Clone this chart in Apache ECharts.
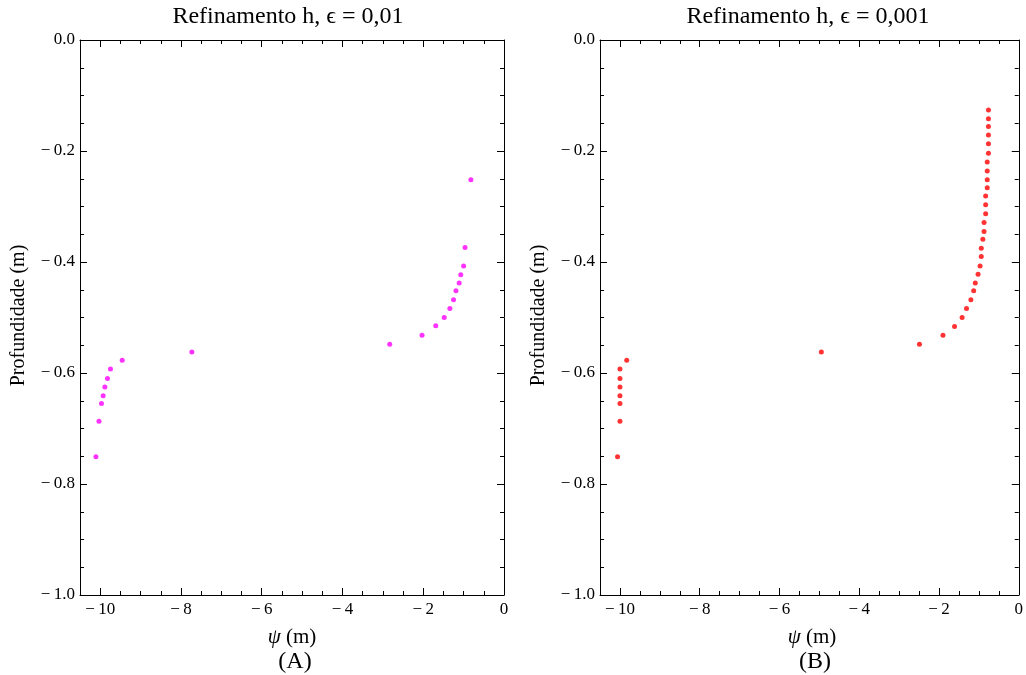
<!DOCTYPE html>
<html>
<head>
<meta charset="utf-8">
<script src="https://cdn.jsdelivr.net/npm/echarts@6/dist/echarts.min.js"></script>
<style>
  html, body { margin: 0; padding: 0; background: #fff; }
  #chart { width: 1026px; height: 675px; }
</style>
</head>
<body>
<div id="chart"></div>
<script>
// Pressure head (psi, m) against depth (m) for two tolerance settings.
const psiA = [-0.82, -0.965, -1.0, -1.07, -1.11, -1.19, -1.25, -1.34, -1.48, -1.69, -2.03, -2.83,
              -7.73, -9.455, -9.745, -9.82, -9.884, -9.926, -9.968, -10.03, -10.106];
const depthA = [-0.252, -0.374, -0.407, -0.423, -0.438, -0.452, -0.468, -0.484, -0.500, -0.515, -0.532, -0.548,
                -0.562, -0.577, -0.593, -0.610, -0.625, -0.641, -0.655, -0.687, -0.751];

const psiB = [-0.76, -0.76, -0.76, -0.76, -0.76, -0.76, -0.79, -0.79, -0.79, -0.79,
              -0.83, -0.83, -0.83, -0.87, -0.87, -0.90, -0.94, -0.94, -0.97, -1.02,
              -1.09, -1.13, -1.20, -1.31, -1.42, -1.61, -1.90, -2.49, -4.95, -9.83,
              -10.0, -10.0, -10.0, -10.0, -10.0, -10.0, -10.06];
const depthB = [-0.126, -0.142, -0.156, -0.171, -0.187, -0.204, -0.220, -0.236, -0.252, -0.266,
                -0.281, -0.297, -0.313, -0.329, -0.345, -0.359, -0.375, -0.390, -0.407, -0.422,
                -0.438, -0.452, -0.468, -0.484, -0.500, -0.516, -0.532, -0.548, -0.562, -0.577,
                -0.593, -0.610, -0.625, -0.641, -0.655, -0.687, -0.751];

const panelTitles = ['Refinamento h, \u03F5 = 0,01', 'Refinamento h, \u03F5 = 0,001'];
const panelTags = ['(A)', '(B)'];
const xTicks = [-10, -8, -6, -4, -2, 0];
const yTicks = [0, -0.2, -0.4, -0.6, -0.8, -1.0];
const xRange = [-10.5, 0];
const yRange = [-1, 0];

const SERIF = '"Liberation Serif", "DejaVu Serif", "Times New Roman", serif';
const MINUS = '\u2212\u2009';

function minorSteps(lo, hi, step) {
  const out = [];
  const n = Math.round((hi - lo) / step);
  for (let i = 0; i <= n; i++) out.push(+(lo + i * step).toFixed(4));
  return out;
}
const xMinor = minorSteps(-10.5, 0, 0.5);
const yMinor = minorSteps(-1, 0, 0.05);

const fmtX = v => (v < 0 ? MINUS : '') + Math.abs(v).toFixed(0);
const fmtY = v => (Math.abs(v) < 1e-9 ? '' : (v < 0 ? MINUS : '')) + Math.abs(v).toFixed(1);

// Four axes per side pair: labelled frame edge, its minor ticks, mirrored edge, its minor ticks.
function frameAxes(dim, gridIndex, range, major, minor, fmt) {
  const near = dim === 'x' ? 'bottom' : 'left';
  const far = dim === 'x' ? 'top' : 'right';
  const base = {
    type: 'value', gridIndex, min: range[0], max: range[1],
    splitLine: { show: false }, z: 3
  };
  const line = { show: true, onZero: false, lineStyle: { color: '#000', width: 1 } };
  const noLine = { show: false, onZero: false };
  const tick = (vals, len) => ({ show: true, inside: true, length: len, customValues: vals,
                                 lineStyle: { color: '#000', width: 1 } });
  return [
    Object.assign({}, base, {
      position: near, axisLine: line, axisTick: tick(major, 7),
      axisLabel: { show: true, customValues: major, formatter: fmt, fontFamily: SERIF,
                   fontSize: 17, color: '#000', margin: dim === 'x' ? 6 : 5, hideOverlap: false }
    }),
    Object.assign({}, base, { position: near, axisLine: noLine, axisTick: tick(minor, 4),
                              axisLabel: { show: false } }),
    Object.assign({}, base, { position: far, axisLine: line, axisTick: tick(major, 7),
                              axisLabel: { show: false } }),
    Object.assign({}, base, { position: far, axisLine: noLine, axisTick: tick(minor, 4),
                              axisLabel: { show: false } })
  ];
}

const grids = [
  { left: 80, top: 40, width: 424, height: 555 },
  { left: 600, top: 40, width: 424, height: 555 }
];

const xAxes = [], yAxes = [];
grids.forEach((g, i) => {
  xAxes.push(...frameAxes('x', i, xRange, xTicks, xMinor, fmtX));
  yAxes.push(...frameAxes('y', i, yRange, yTicks, yMinor, fmtY));
});

const seriesDefs = [
  { psi: psiA, depth: depthA, color: '#ff00ff' },
  { psi: psiB, depth: depthB, color: '#ff0000' }
];
const series = seriesDefs.map((s, i) => ({
  type: 'scatter',
  xAxisIndex: i * 4, yAxisIndex: i * 4,
  data: s.psi.map((x, k) => [x, s.depth[k]]),
  symbol: 'circle', symbolSize: 5,
  itemStyle: { color: s.color },
  emphasis: { disabled: true },
  z: 2
}));

// Titles, axis names and panel tags
const graphic = [];
grids.forEach((g, i) => {
  const cx = g.left + g.width / 2;
  const cy = g.top + g.height / 2;
  graphic.push({
    type: 'text', x: cx - 4, y: 17,
    style: { text: panelTitles[i], font: '24px ' + SERIF, fill: '#000',
             textAlign: 'center', textVerticalAlign: 'middle' }
  });
  graphic.push({
    type: 'text', x: cx, y: 637,
    style: { text: '{i|\u03C8} (m)', font: '21px ' + SERIF, fill: '#000',
             textAlign: 'center', textVerticalAlign: 'middle',
             rich: { i: { fontStyle: 'italic', fontFamily: SERIF, fontSize: 21 } } }
  });
  graphic.push({
    type: 'text', x: cx + 3, y: 662,
    style: { text: panelTags[i], font: '24px ' + SERIF, fill: '#000',
             textAlign: 'center', textVerticalAlign: 'middle' }
  });
  graphic.push({
    type: 'text', x: g.left - 61, y: cy - 2, rotation: Math.PI / 2,
    style: { text: 'Profundidade (m)', font: '20px ' + SERIF, fill: '#000',
             textAlign: 'center', textVerticalAlign: 'middle' }
  });
});

const chart = echarts.init(document.getElementById('chart'), null, { renderer: 'canvas' });
chart.setOption({
  animation: false,
  backgroundColor: '#fff',
  grid: grids,
  xAxis: xAxes,
  yAxis: yAxes,
  series,
  graphic
});
</script>
</body>
</html>
